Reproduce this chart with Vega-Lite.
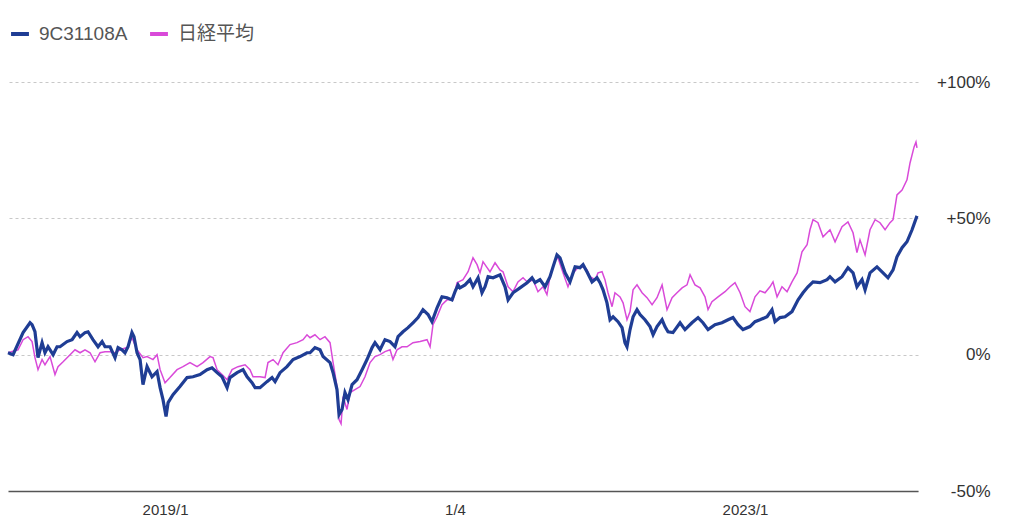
{
  "$schema": "https://vega.github.io/schema/vega-lite/v6.json",
  "autosize": {"type": "none"},
  "width": 910,
  "height": 409,
  "padding": {"left": 8, "top": 82, "right": 106, "bottom": 39},
  "background": "white",
  "config": {
    "font": "Liberation Sans, Noto Sans CJK JP",
    "view": {"stroke": null}
  },
  "data": {"values": [
    {"s":"9C31108A","t":2017.917,"v":0.7},{"s":"9C31108A","t":2017.952,"v":0.0},{"s":"9C31108A","t":2018.021,"v":8.1},{"s":"9C31108A","t":2018.069,"v":11.7},{"s":"9C31108A","t":2018.083,"v":11.0},{"s":"9C31108A","t":2018.103,"v":8.4},{"s":"9C31108A","t":2018.124,"v":-1.1},{"s":"9C31108A","t":2018.152,"v":4.4},{"s":"9C31108A","t":2018.172,"v":0.7},{"s":"9C31108A","t":2018.193,"v":2.9},{"s":"9C31108A","t":2018.228,"v":0.0},{"s":"9C31108A","t":2018.255,"v":2.9},{"s":"9C31108A","t":2018.276,"v":2.9},{"s":"9C31108A","t":2018.324,"v":4.8},{"s":"9C31108A","t":2018.359,"v":5.5},{"s":"9C31108A","t":2018.393,"v":8.1},{"s":"9C31108A","t":2018.414,"v":6.6},{"s":"9C31108A","t":2018.448,"v":8.1},{"s":"9C31108A","t":2018.469,"v":8.4},{"s":"9C31108A","t":2018.503,"v":5.5},{"s":"9C31108A","t":2018.538,"v":2.9},{"s":"9C31108A","t":2018.566,"v":4.8},{"s":"9C31108A","t":2018.586,"v":2.9},{"s":"9C31108A","t":2018.621,"v":2.9},{"s":"9C31108A","t":2018.655,"v":-1.1},{"s":"9C31108A","t":2018.676,"v":2.6},{"s":"9C31108A","t":2018.703,"v":1.8},{"s":"9C31108A","t":2018.724,"v":0.7},{"s":"9C31108A","t":2018.745,"v":2.9},{"s":"9C31108A","t":2018.772,"v":8.1},{"s":"9C31108A","t":2018.786,"v":6.6},{"s":"9C31108A","t":2018.807,"v":0.7},{"s":"9C31108A","t":2018.828,"v":-1.8},{"s":"9C31108A","t":2018.848,"v":-11.0},{"s":"9C31108A","t":2018.876,"v":-4.4},{"s":"9C31108A","t":2018.910,"v":-8.1},{"s":"9C31108A","t":2018.945,"v":-6.2},{"s":"9C31108A","t":2018.966,"v":-12.1},{"s":"9C31108A","t":2018.986,"v":-16.5},{"s":"9C31108A","t":2019.007,"v":-22.7},{"s":"9C31108A","t":2019.021,"v":-17.6},{"s":"9C31108A","t":2019.055,"v":-14.7},{"s":"9C31108A","t":2019.103,"v":-11.7},{"s":"9C31108A","t":2019.152,"v":-8.4},{"s":"9C31108A","t":2019.193,"v":-8.1},{"s":"9C31108A","t":2019.241,"v":-7.3},{"s":"9C31108A","t":2019.290,"v":-5.5},{"s":"9C31108A","t":2019.324,"v":-4.8},{"s":"9C31108A","t":2019.359,"v":-6.6},{"s":"9C31108A","t":2019.393,"v":-8.1},{"s":"9C31108A","t":2019.428,"v":-12.1},{"s":"9C31108A","t":2019.448,"v":-8.4},{"s":"9C31108A","t":2019.497,"v":-6.6},{"s":"9C31108A","t":2019.538,"v":-5.5},{"s":"9C31108A","t":2019.566,"v":-8.1},{"s":"9C31108A","t":2019.600,"v":-10.3},{"s":"9C31108A","t":2019.621,"v":-12.1},{"s":"9C31108A","t":2019.655,"v":-12.1},{"s":"9C31108A","t":2019.703,"v":-9.9},{"s":"9C31108A","t":2019.738,"v":-8.4},{"s":"9C31108A","t":2019.759,"v":-9.9},{"s":"9C31108A","t":2019.793,"v":-6.6},{"s":"9C31108A","t":2019.841,"v":-4.4},{"s":"9C31108A","t":2019.883,"v":-1.8},{"s":"9C31108A","t":2019.931,"v":-0.7},{"s":"9C31108A","t":2019.979,"v":0.7},{"s":"9C31108A","t":2020.000,"v":0.7},{"s":"9C31108A","t":2020.034,"v":2.6},{"s":"9C31108A","t":2020.069,"v":1.8},{"s":"9C31108A","t":2020.090,"v":-0.7},{"s":"9C31108A","t":2020.138,"v":-2.9},{"s":"9C31108A","t":2020.159,"v":-6.6},{"s":"9C31108A","t":2020.186,"v":-12.8},{"s":"9C31108A","t":2020.200,"v":-22.0},{"s":"9C31108A","t":2020.221,"v":-20.1},{"s":"9C31108A","t":2020.241,"v":-13.9},{"s":"9C31108A","t":2020.262,"v":-16.5},{"s":"9C31108A","t":2020.290,"v":-11.0},{"s":"9C31108A","t":2020.324,"v":-9.2},{"s":"9C31108A","t":2020.359,"v":-5.5},{"s":"9C31108A","t":2020.393,"v":-1.8},{"s":"9C31108A","t":2020.428,"v":2.6},{"s":"9C31108A","t":2020.448,"v":4.4},{"s":"9C31108A","t":2020.483,"v":1.8},{"s":"9C31108A","t":2020.517,"v":5.5},{"s":"9C31108A","t":2020.552,"v":4.8},{"s":"9C31108A","t":2020.586,"v":2.9},{"s":"9C31108A","t":2020.607,"v":6.6},{"s":"9C31108A","t":2020.641,"v":8.4},{"s":"9C31108A","t":2020.676,"v":9.9},{"s":"9C31108A","t":2020.710,"v":11.7},{"s":"9C31108A","t":2020.745,"v":13.6},{"s":"9C31108A","t":2020.779,"v":16.5},{"s":"9C31108A","t":2020.814,"v":14.7},{"s":"9C31108A","t":2020.841,"v":12.1},{"s":"9C31108A","t":2020.876,"v":17.2},{"s":"9C31108A","t":2020.910,"v":21.2},{"s":"9C31108A","t":2020.945,"v":20.9},{"s":"9C31108A","t":2020.979,"v":20.1},{"s":"9C31108A","t":2021.000,"v":23.1},{"s":"9C31108A","t":2021.021,"v":25.6},{"s":"9C31108A","t":2021.034,"v":24.5},{"s":"9C31108A","t":2021.069,"v":25.6},{"s":"9C31108A","t":2021.103,"v":27.5},{"s":"9C31108A","t":2021.124,"v":24.9},{"s":"9C31108A","t":2021.159,"v":28.2},{"s":"9C31108A","t":2021.186,"v":22.7},{"s":"9C31108A","t":2021.207,"v":24.9},{"s":"9C31108A","t":2021.228,"v":28.6},{"s":"9C31108A","t":2021.262,"v":28.2},{"s":"9C31108A","t":2021.310,"v":29.3},{"s":"9C31108A","t":2021.345,"v":24.9},{"s":"9C31108A","t":2021.366,"v":20.1},{"s":"9C31108A","t":2021.400,"v":22.7},{"s":"9C31108A","t":2021.448,"v":24.5},{"s":"9C31108A","t":2021.497,"v":26.4},{"s":"9C31108A","t":2021.531,"v":28.2},{"s":"9C31108A","t":2021.552,"v":26.4},{"s":"9C31108A","t":2021.586,"v":27.5},{"s":"9C31108A","t":2021.621,"v":24.9},{"s":"9C31108A","t":2021.655,"v":28.6},{"s":"9C31108A","t":2021.676,"v":32.2},{"s":"9C31108A","t":2021.703,"v":36.6},{"s":"9C31108A","t":2021.724,"v":35.5},{"s":"9C31108A","t":2021.759,"v":30.0},{"s":"9C31108A","t":2021.793,"v":26.7},{"s":"9C31108A","t":2021.828,"v":32.2},{"s":"9C31108A","t":2021.862,"v":31.9},{"s":"9C31108A","t":2021.883,"v":33.0},{"s":"9C31108A","t":2021.910,"v":30.4},{"s":"9C31108A","t":2021.945,"v":26.7},{"s":"9C31108A","t":2021.979,"v":28.2},{"s":"9C31108A","t":2022.000,"v":26.4},{"s":"9C31108A","t":2022.021,"v":23.8},{"s":"9C31108A","t":2022.048,"v":19.0},{"s":"9C31108A","t":2022.069,"v":12.8},{"s":"9C31108A","t":2022.090,"v":13.9},{"s":"9C31108A","t":2022.124,"v":12.1},{"s":"9C31108A","t":2022.152,"v":9.9},{"s":"9C31108A","t":2022.172,"v":4.4},{"s":"9C31108A","t":2022.186,"v":2.9},{"s":"9C31108A","t":2022.207,"v":9.2},{"s":"9C31108A","t":2022.228,"v":13.9},{"s":"9C31108A","t":2022.255,"v":16.5},{"s":"9C31108A","t":2022.276,"v":14.7},{"s":"9C31108A","t":2022.310,"v":12.8},{"s":"9C31108A","t":2022.345,"v":10.3},{"s":"9C31108A","t":2022.366,"v":7.3},{"s":"9C31108A","t":2022.393,"v":10.3},{"s":"9C31108A","t":2022.428,"v":12.8},{"s":"9C31108A","t":2022.448,"v":10.3},{"s":"9C31108A","t":2022.469,"v":8.4},{"s":"9C31108A","t":2022.503,"v":8.1},{"s":"9C31108A","t":2022.552,"v":11.7},{"s":"9C31108A","t":2022.586,"v":9.2},{"s":"9C31108A","t":2022.634,"v":11.7},{"s":"9C31108A","t":2022.676,"v":13.6},{"s":"9C31108A","t":2022.710,"v":11.7},{"s":"9C31108A","t":2022.745,"v":9.2},{"s":"9C31108A","t":2022.793,"v":11.0},{"s":"9C31108A","t":2022.841,"v":11.7},{"s":"9C31108A","t":2022.883,"v":12.8},{"s":"9C31108A","t":2022.917,"v":13.6},{"s":"9C31108A","t":2022.952,"v":11.0},{"s":"9C31108A","t":2022.986,"v":9.2},{"s":"9C31108A","t":2023.034,"v":10.3},{"s":"9C31108A","t":2023.069,"v":12.1},{"s":"9C31108A","t":2023.103,"v":12.8},{"s":"9C31108A","t":2023.152,"v":13.9},{"s":"9C31108A","t":2023.186,"v":16.5},{"s":"9C31108A","t":2023.207,"v":12.1},{"s":"9C31108A","t":2023.241,"v":13.6},{"s":"9C31108A","t":2023.276,"v":13.9},{"s":"9C31108A","t":2023.324,"v":15.8},{"s":"9C31108A","t":2023.366,"v":20.1},{"s":"9C31108A","t":2023.400,"v":22.7},{"s":"9C31108A","t":2023.434,"v":24.9},{"s":"9C31108A","t":2023.469,"v":26.7},{"s":"9C31108A","t":2023.517,"v":26.4},{"s":"9C31108A","t":2023.566,"v":27.5},{"s":"9C31108A","t":2023.586,"v":28.6},{"s":"9C31108A","t":2023.621,"v":26.7},{"s":"9C31108A","t":2023.669,"v":28.6},{"s":"9C31108A","t":2023.710,"v":31.9},{"s":"9C31108A","t":2023.745,"v":30.0},{"s":"9C31108A","t":2023.772,"v":24.9},{"s":"9C31108A","t":2023.807,"v":27.5},{"s":"9C31108A","t":2023.828,"v":23.8},{"s":"9C31108A","t":2023.862,"v":30.0},{"s":"9C31108A","t":2023.910,"v":32.2},{"s":"9C31108A","t":2023.952,"v":30.0},{"s":"9C31108A","t":2023.986,"v":28.2},{"s":"9C31108A","t":2024.021,"v":31.1},{"s":"9C31108A","t":2024.048,"v":35.9},{"s":"9C31108A","t":2024.083,"v":39.2},{"s":"9C31108A","t":2024.117,"v":41.4},{"s":"9C31108A","t":2024.152,"v":45.8},{"s":"9C31108A","t":2024.186,"v":50.9},
    {"s":"日経平均","t":2017.917,"v":0.7},{"s":"日経平均","t":2017.986,"v":1.8},{"s":"日経平均","t":2018.021,"v":5.5},{"s":"日経平均","t":2018.055,"v":6.6},{"s":"日経平均","t":2018.083,"v":4.8},{"s":"日経平均","t":2018.103,"v":-1.1},{"s":"日経平均","t":2018.124,"v":-5.5},{"s":"日経平均","t":2018.152,"v":-1.8},{"s":"日経平均","t":2018.172,"v":-3.7},{"s":"日経平均","t":2018.207,"v":-0.7},{"s":"日経平均","t":2018.241,"v":-7.3},{"s":"日経平均","t":2018.262,"v":-4.4},{"s":"日経平均","t":2018.297,"v":-2.6},{"s":"日経平均","t":2018.345,"v":0.0},{"s":"日経平均","t":2018.379,"v":1.8},{"s":"日経平均","t":2018.414,"v":0.7},{"s":"日経平均","t":2018.448,"v":1.8},{"s":"日経平均","t":2018.483,"v":0.7},{"s":"日経平均","t":2018.517,"v":-2.6},{"s":"日経平均","t":2018.552,"v":0.7},{"s":"日経平均","t":2018.586,"v":1.1},{"s":"日経平均","t":2018.621,"v":1.1},{"s":"日経平均","t":2018.655,"v":0.7},{"s":"日経平均","t":2018.690,"v":1.8},{"s":"日経平均","t":2018.738,"v":2.6},{"s":"日経平均","t":2018.772,"v":6.2},{"s":"日経平均","t":2018.807,"v":1.8},{"s":"日経平均","t":2018.848,"v":-1.1},{"s":"日経平均","t":2018.876,"v":-0.7},{"s":"日経平均","t":2018.917,"v":-1.8},{"s":"日経平均","t":2018.945,"v":0.0},{"s":"日経平均","t":2018.966,"v":-5.5},{"s":"日経平均","t":2019.000,"v":-10.3},{"s":"日経平均","t":2019.034,"v":-8.4},{"s":"日経平均","t":2019.083,"v":-5.5},{"s":"日経平均","t":2019.124,"v":-4.4},{"s":"日経平均","t":2019.172,"v":-2.9},{"s":"日経平均","t":2019.221,"v":-4.4},{"s":"日経平均","t":2019.262,"v":-2.9},{"s":"日経平均","t":2019.310,"v":-0.7},{"s":"日経平均","t":2019.331,"v":-1.1},{"s":"日経平均","t":2019.359,"v":-5.5},{"s":"日経平均","t":2019.393,"v":-7.3},{"s":"日経平均","t":2019.428,"v":-9.2},{"s":"日経平均","t":2019.462,"v":-5.5},{"s":"日経平均","t":2019.503,"v":-4.4},{"s":"日経平均","t":2019.552,"v":-3.7},{"s":"日経平均","t":2019.586,"v":-5.5},{"s":"日経平均","t":2019.607,"v":-8.1},{"s":"日経平均","t":2019.655,"v":-8.1},{"s":"日経平均","t":2019.690,"v":-8.4},{"s":"日経平均","t":2019.710,"v":-2.9},{"s":"日経平均","t":2019.745,"v":-1.8},{"s":"日経平均","t":2019.779,"v":-3.7},{"s":"日経平均","t":2019.814,"v":0.7},{"s":"日経平均","t":2019.862,"v":3.7},{"s":"日経平均","t":2019.910,"v":4.4},{"s":"日経平均","t":2019.952,"v":5.5},{"s":"日経平均","t":2019.979,"v":7.3},{"s":"日経平均","t":2020.000,"v":6.2},{"s":"日経平均","t":2020.034,"v":7.3},{"s":"日経平均","t":2020.069,"v":5.5},{"s":"日経平均","t":2020.103,"v":6.6},{"s":"日経平均","t":2020.138,"v":4.4},{"s":"日経平均","t":2020.159,"v":-2.9},{"s":"日経平均","t":2020.186,"v":-11.7},{"s":"日経平均","t":2020.200,"v":-23.8},{"s":"日経平均","t":2020.214,"v":-25.3},{"s":"日経平均","t":2020.228,"v":-15.4},{"s":"日経平均","t":2020.255,"v":-20.1},{"s":"日経平均","t":2020.276,"v":-13.9},{"s":"日経平均","t":2020.310,"v":-12.8},{"s":"日経平均","t":2020.345,"v":-11.7},{"s":"日経平均","t":2020.379,"v":-8.1},{"s":"日経平均","t":2020.414,"v":-2.9},{"s":"日経平均","t":2020.448,"v":-0.7},{"s":"日経平均","t":2020.483,"v":0.0},{"s":"日経平均","t":2020.517,"v":1.1},{"s":"日経平均","t":2020.552,"v":1.8},{"s":"日経平均","t":2020.572,"v":-1.8},{"s":"日経平均","t":2020.600,"v":1.8},{"s":"日経平均","t":2020.634,"v":2.9},{"s":"日経平均","t":2020.669,"v":2.9},{"s":"日経平均","t":2020.710,"v":4.4},{"s":"日経平均","t":2020.759,"v":4.8},{"s":"日経平均","t":2020.807,"v":5.5},{"s":"日経平均","t":2020.828,"v":2.9},{"s":"日経平均","t":2020.848,"v":11.0},{"s":"日経平均","t":2020.876,"v":13.9},{"s":"日経平均","t":2020.910,"v":18.3},{"s":"日経平均","t":2020.945,"v":20.1},{"s":"日経平均","t":2020.986,"v":20.1},{"s":"日経平均","t":2021.014,"v":26.4},{"s":"日経平均","t":2021.055,"v":27.5},{"s":"日経平均","t":2021.090,"v":30.4},{"s":"日経平均","t":2021.124,"v":35.5},{"s":"日経平均","t":2021.152,"v":33.0},{"s":"日経平均","t":2021.172,"v":30.0},{"s":"日経平均","t":2021.193,"v":34.1},{"s":"日経平均","t":2021.221,"v":31.9},{"s":"日経平均","t":2021.241,"v":30.4},{"s":"日経平均","t":2021.276,"v":33.7},{"s":"日経平均","t":2021.310,"v":31.1},{"s":"日経平均","t":2021.331,"v":30.4},{"s":"日経平均","t":2021.366,"v":24.9},{"s":"日経平均","t":2021.400,"v":23.1},{"s":"日経平均","t":2021.434,"v":26.7},{"s":"日経平均","t":2021.469,"v":28.2},{"s":"日経平均","t":2021.503,"v":26.4},{"s":"日経平均","t":2021.538,"v":27.5},{"s":"日経平均","t":2021.572,"v":23.1},{"s":"日経平均","t":2021.607,"v":24.9},{"s":"日経平均","t":2021.634,"v":22.0},{"s":"日経平均","t":2021.655,"v":28.6},{"s":"日経平均","t":2021.690,"v":34.8},{"s":"日経平均","t":2021.710,"v":35.5},{"s":"日経平均","t":2021.745,"v":30.0},{"s":"日経平均","t":2021.779,"v":24.9},{"s":"日経平均","t":2021.814,"v":30.0},{"s":"日経平均","t":2021.848,"v":31.9},{"s":"日経平均","t":2021.883,"v":32.2},{"s":"日経平均","t":2021.910,"v":31.1},{"s":"日経平均","t":2021.931,"v":28.6},{"s":"日経平均","t":2021.966,"v":27.5},{"s":"日経平均","t":2021.986,"v":30.0},{"s":"日経平均","t":2022.014,"v":30.4},{"s":"日経平均","t":2022.034,"v":27.5},{"s":"日経平均","t":2022.055,"v":22.7},{"s":"日経平均","t":2022.083,"v":17.6},{"s":"日経平均","t":2022.103,"v":22.7},{"s":"日経平均","t":2022.138,"v":21.2},{"s":"日経平均","t":2022.159,"v":19.0},{"s":"日経平均","t":2022.186,"v":12.8},{"s":"日経平均","t":2022.207,"v":15.8},{"s":"日経平均","t":2022.228,"v":23.8},{"s":"日経平均","t":2022.255,"v":25.6},{"s":"日経平均","t":2022.290,"v":22.7},{"s":"日経平均","t":2022.324,"v":20.9},{"s":"日経平均","t":2022.359,"v":18.3},{"s":"日経平均","t":2022.393,"v":20.9},{"s":"日経平均","t":2022.428,"v":25.6},{"s":"日経平均","t":2022.462,"v":16.5},{"s":"日経平均","t":2022.497,"v":20.9},{"s":"日経平均","t":2022.531,"v":22.7},{"s":"日経平均","t":2022.566,"v":24.5},{"s":"日経平均","t":2022.600,"v":25.6},{"s":"日経平均","t":2022.621,"v":29.3},{"s":"日経平均","t":2022.655,"v":25.6},{"s":"日経平均","t":2022.690,"v":24.5},{"s":"日経平均","t":2022.724,"v":21.2},{"s":"日経平均","t":2022.745,"v":16.5},{"s":"日経平均","t":2022.772,"v":19.4},{"s":"日経平均","t":2022.814,"v":21.2},{"s":"日経平均","t":2022.862,"v":23.1},{"s":"日経平均","t":2022.897,"v":24.9},{"s":"日経平均","t":2022.931,"v":26.4},{"s":"日経平均","t":2022.966,"v":22.7},{"s":"日経平均","t":2023.000,"v":17.6},{"s":"日経平均","t":2023.034,"v":15.8},{"s":"日経平均","t":2023.069,"v":21.2},{"s":"日経平均","t":2023.103,"v":23.4},{"s":"日経平均","t":2023.138,"v":22.7},{"s":"日経平均","t":2023.172,"v":24.9},{"s":"日経平均","t":2023.193,"v":26.7},{"s":"日経平均","t":2023.221,"v":21.2},{"s":"日経平均","t":2023.255,"v":24.9},{"s":"日経平均","t":2023.290,"v":23.1},{"s":"日経平均","t":2023.324,"v":26.7},{"s":"日経平均","t":2023.359,"v":30.0},{"s":"日経平均","t":2023.393,"v":37.7},{"s":"日経平均","t":2023.428,"v":40.3},{"s":"日経平均","t":2023.448,"v":45.8},{"s":"日経平均","t":2023.469,"v":49.5},{"s":"日経平均","t":2023.503,"v":48.4},{"s":"日経平均","t":2023.538,"v":43.2},{"s":"日経平均","t":2023.586,"v":45.8},{"s":"日経平均","t":2023.621,"v":41.4},{"s":"日経平均","t":2023.669,"v":46.9},{"s":"日経平均","t":2023.710,"v":48.7},{"s":"日経平均","t":2023.745,"v":44.7},{"s":"日経平均","t":2023.772,"v":37.4},{"s":"日経平均","t":2023.793,"v":42.1},{"s":"日経平均","t":2023.828,"v":36.6},{"s":"日経平均","t":2023.862,"v":45.8},{"s":"日経平均","t":2023.897,"v":49.5},{"s":"日経平均","t":2023.931,"v":48.4},{"s":"日経平均","t":2023.966,"v":45.8},{"s":"日経平均","t":2024.000,"v":48.4},{"s":"日経平均","t":2024.021,"v":49.5},{"s":"日経平均","t":2024.048,"v":58.6},{"s":"日経平均","t":2024.083,"v":60.4},{"s":"日経平均","t":2024.117,"v":64.1},{"s":"日経平均","t":2024.138,"v":70.3},{"s":"日経平均","t":2024.166,"v":76.2},{"s":"日経平均","t":2024.179,"v":78.0},{"s":"日経平均","t":2024.186,"v":75.8}
  ]},
  "encoding": {
    "x": {
      "field": "t", "type": "quantitative",
      "scale": {"domain": [2017.917, 2024.193], "nice": false, "zero": false},
      "axis": {
        "title": null, "values": [2019, 2021, 2023],
        "labelExpr": "datum.value == 2021 ? '1/4' : datum.value + '/1'",
        "grid": false, "ticks": false, "tickSize": 0,
        "domainColor": "#555555", "domainWidth": 1.5,
        "labelFontSize": 15, "labelColor": "#333333", "labelPadding": 11
      }
    },
    "y": {
      "field": "v", "type": "quantitative",
      "scale": {"domain": [-50, 100], "nice": false},
      "axis": {
        "orient": "right", "title": null, "values": [-50, 0, 50, 100],
        "labelExpr": "datum.value > 0 ? '+' + datum.value + '%' : datum.value + '%'",
        "domain": false, "ticks": false, "tickSize": 0,
        "labelAlign": "right", "labelPadding": 72,
        "labelFontSize": 17, "labelColor": "#333333",
        "gridColor": "#c8c8c8", "gridDash": [3, 3], "gridWidth": 1
      }
    },
    "color": {
      "field": "s", "type": "nominal",
      "scale": {"domain": ["9C31108A", "日経平均"], "range": ["#1f3d94", "#d94ad9"]},
      "legend": {
        "title": null, "orient": "none", "direction": "horizontal",
        "legendX": 1, "legendY": -59,
        "symbolType": "stroke", "symbolStrokeWidth": 4, "symbolSize": 320,
        "labelFontSize": 19, "labelColor": "#555555",
        "labelOffset": 8, "columnPadding": 14, "padding": 0
      }
    }
  },
  "layer": [
    {
      "transform": [{"filter": "datum.s == '日経平均'"}],
      "mark": {"type": "line", "strokeWidth": 1.5, "interpolate": "linear"}
    },
    {
      "transform": [{"filter": "datum.s == '9C31108A'"}],
      "mark": {"type": "line", "strokeWidth": 3.2, "interpolate": "linear"}
    }
  ]
}
